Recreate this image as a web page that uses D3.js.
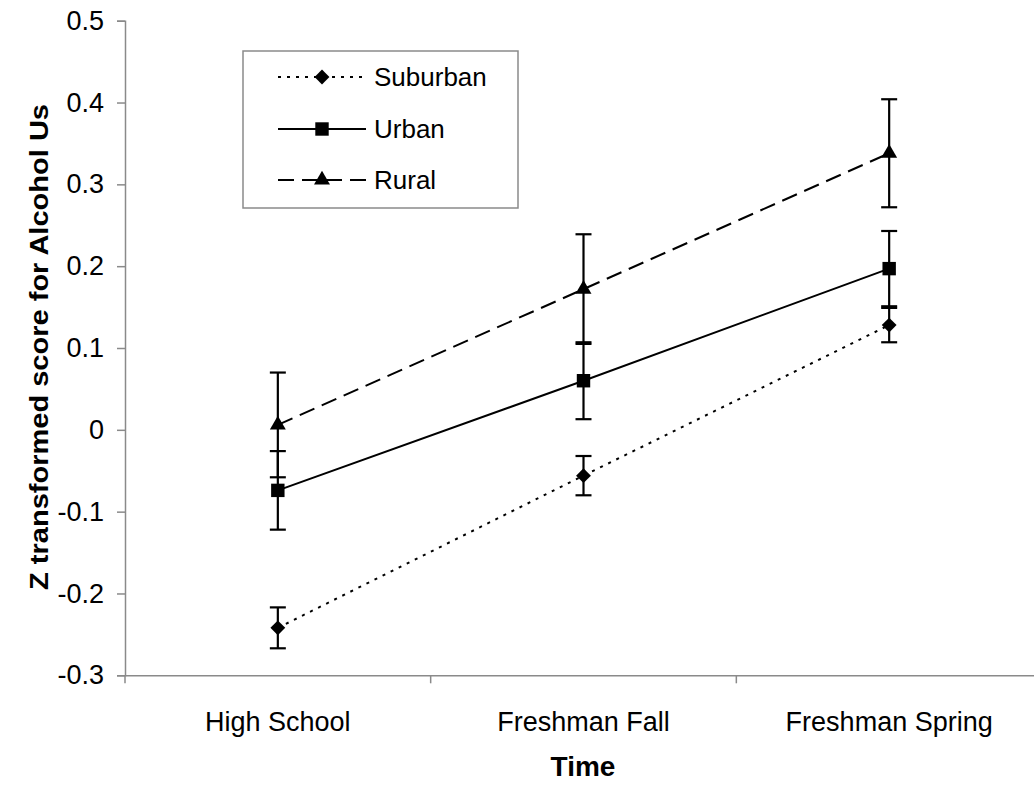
<!DOCTYPE html>
<html>
<head>
<meta charset="utf-8">
<script src="https://cdn.jsdelivr.net/npm/d3@7/dist/d3.min.js"></script>
<style>
  html, body { margin: 0; padding: 0; background: #fff; }
  svg { display: block; font-family: "Liberation Sans", Arial, sans-serif; }
</style>
</head>
<body>
<svg id="chart" width="1034" height="785"></svg>
<script>
// ---- data ----
const categories = ["High School", "Freshman Fall", "Freshman Spring"];
const seriesNames = ["Suburban", "Urban", "Rural"];
const suburban = [-0.242, -0.056, 0.128];
const suburbanErr = [0.025, 0.024, 0.021];
const urban = [-0.074, 0.060, 0.197];
const urbanErr = [0.048, 0.047, 0.046];
const rural = [0.006, 0.172, 0.338];
const ruralErr = [0.064, 0.067, 0.066];
const yTicks = [-0.3, -0.2, -0.1, 0, 0.1, 0.2, 0.3, 0.4, 0.5];
const yTickLabels = ["-0.3", "-0.2", "-0.1", "0", "0.1", "0.2", "0.3", "0.4", "0.5"];
const xTitle = "Time";
const yTitle = "Z transformed score for Alcohol Us";

const svg = d3.select("#chart");
const axisColor = "#8a8a8a";

const x = d3.scaleBand().domain(categories).range([125, 1042]).padding(0);
const y = d3.scaleLinear().domain([-0.3, 0.5]).range([675.3, 20.7]);
const cx = c => x(c) + x.bandwidth() / 2;

// ---- y axis ----
const yAxis = d3.axisLeft(y).tickValues(yTicks).tickSize(8).tickPadding(13)
  .tickFormat((d, i) => yTickLabels[i]);
const gy = svg.append("g").attr("transform", "translate(125,0)").call(yAxis);
gy.select(".domain").attr("stroke", axisColor).attr("stroke-width", 1.5);
gy.selectAll(".tick line").attr("stroke", axisColor).attr("stroke-width", 1.5);
gy.selectAll(".tick text").attr("font-size", 27).attr("fill", "#000")
  .attr("font-family", "Liberation Sans, Arial, sans-serif");

// ---- x axis ----
const xAxis = d3.axisBottom(x).tickSize(0).tickPadding(37);
const gx = svg.append("g").attr("transform", `translate(0,${y(-0.3)})`).call(xAxis);
gx.select(".domain").attr("stroke", axisColor).attr("stroke-width", 1.5);
gx.selectAll(".tick text").attr("font-size", 27).attr("fill", "#000")
  .attr("font-family", "Liberation Sans, Arial, sans-serif");
// boundary ticks
gx.selectAll("line.bound").data(categories).enter().append("line")
  .attr("class", "bound")
  .attr("x1", d => x(d)).attr("x2", d => x(d))
  .attr("y1", 0).attr("y2", 8)
  .attr("stroke", axisColor).attr("stroke-width", 1.5);

// ---- titles ----
svg.append("text").attr("x", 583).attr("y", 776).attr("text-anchor", "middle")
  .attr("font-size", 28).attr("font-weight", "bold").text(xTitle);
svg.append("text").attr("transform", "translate(48,347) rotate(-90)")
  .attr("text-anchor", "middle").attr("font-size", 25).attr("font-weight", "bold")
  .attr("textLength", 486).attr("lengthAdjust", "spacingAndGlyphs")
  .text(yTitle);

// ---- series ----
const series = [
  { name: seriesNames[0], values: suburban, err: suburbanErr, dash: "3,6", symbol: d3.symbolSquare, size: 110, rot: 45 },
  { name: seriesNames[1], values: urban, err: urbanErr, dash: null, symbol: d3.symbolSquare, size: 180, rot: 0 },
  { name: seriesNames[2], values: rural, err: ruralErr, dash: "16,8", symbol: d3.symbolTriangle, size: 110, rot: 0 }
];

const line = d3.line().x((d, i) => cx(categories[i])).y(d => y(d));
const capW = 8;

series.forEach(s => {
  svg.append("path").datum(s.values)
    .attr("d", line).attr("fill", "none").attr("stroke", "#000")
    .attr("stroke-width", 2).attr("stroke-dasharray", s.dash);
});

series.forEach(s => {
  const g = svg.append("g");
  s.values.forEach((v, i) => {
    const px = cx(categories[i]);
    const top = y(v + s.err[i]), bot = y(v - s.err[i]);
    g.append("line").attr("x1", px).attr("x2", px).attr("y1", top).attr("y2", bot)
      .attr("stroke", "#000").attr("stroke-width", 2.2);
    [top, bot].forEach(yy => g.append("line")
      .attr("x1", px - capW).attr("x2", px + capW).attr("y1", yy).attr("y2", yy)
      .attr("stroke", "#000").attr("stroke-width", 2.2));
  });
});

series.forEach(s => {
  svg.append("g").selectAll("path").data(s.values).enter().append("path")
    .attr("d", d3.symbol().type(s.symbol).size(s.size))
    .attr("transform", (d, i) => `translate(${cx(categories[i])},${y(d)}) rotate(${s.rot})`)
    .attr("fill", "#000");
});

// ---- legend ----
const lg = svg.append("g");
lg.append("rect").attr("x", 243).attr("y", 51).attr("width", 275).attr("height", 157)
  .attr("fill", "#fff").attr("stroke", axisColor).attr("stroke-width", 1.5);
const legY = [77, 129, 180];
series.forEach((s, i) => {
  lg.append("line").attr("x1", 278).attr("x2", 366).attr("y1", legY[i]).attr("y2", legY[i])
    .attr("stroke", "#000").attr("stroke-width", 2).attr("stroke-dasharray", s.dash);
  lg.append("path").attr("d", d3.symbol().type(s.symbol).size(s.size))
    .attr("transform", `translate(322,${legY[i]}) rotate(${s.rot})`).attr("fill", "#000");
  lg.append("text").attr("x", 374).attr("y", legY[i]).attr("dy", "0.35em")
    .attr("font-size", 26).text(s.name);
});
</script>
</body>
</html>
